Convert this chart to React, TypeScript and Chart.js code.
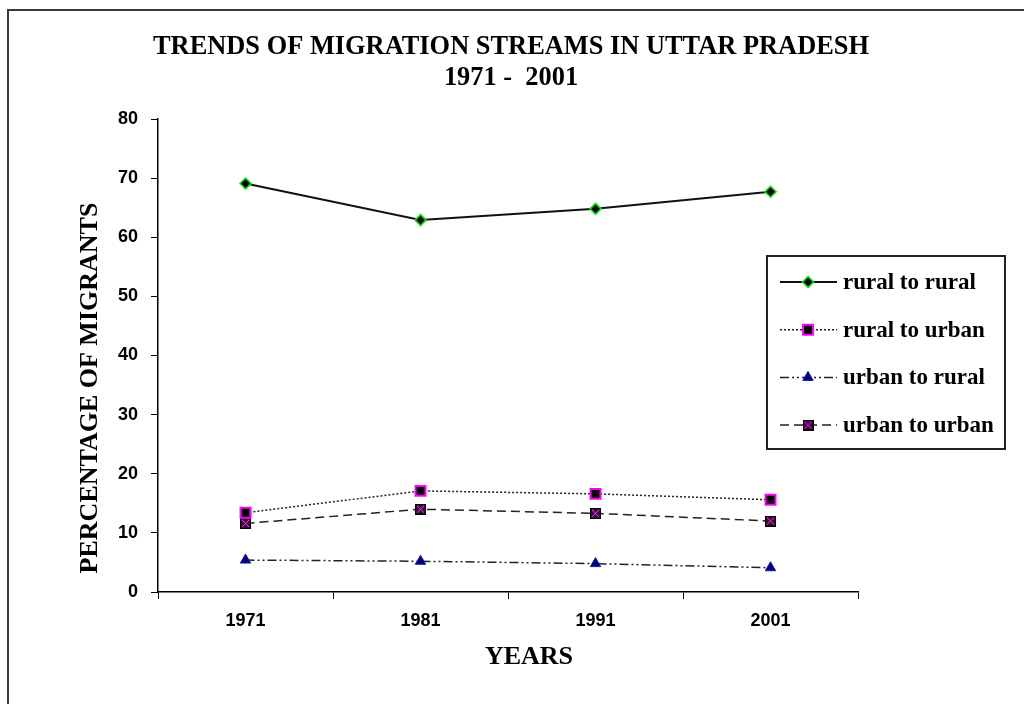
import React, { useEffect, useRef } from 'react';
import { Chart, registerables } from 'chart.js';
import { drawPoint } from 'chart.js/helpers';

Chart.register(...registerables);

// ---- data ----
const years = ['1971', '1981', '1991', '2001'];
const ruralToRural = [69.1, 62.9, 64.8, 67.7];
const ruralToUrban = [13.4, 17.1, 16.6, 15.6];
const urbanToRural = [5.4, 5.2, 4.8, 4.1];
const urbanToUrban = [11.6, 14.0, 13.3, 12.0];
const seriesNames = ['rural to rural', 'rural to urban', 'urban to rural', 'urban to urban'];
const titleLines = ['TRENDS OF MIGRATION STREAMS IN UTTAR PRADESH', '1971 -  2001'];
const xTitle = 'YEARS';
const yTitle = 'PERCENTAGE OF MIGRANTS';
const yMin = 0;
const yMax = 80;
const yStep = 10;

const SERIF = '"Liberation Serif", "Times New Roman", serif';
const SANS = '"Liberation Sans", Arial, sans-serif';

function makeXSquare(): HTMLCanvasElement {
  const c = document.createElement('canvas');
  c.width = 11;
  c.height = 11;
  const g = c.getContext('2d')!;
  g.fillStyle = '#3a0a3a';
  g.fillRect(0, 0, 11, 11);
  g.strokeStyle = '#000';
  g.lineWidth = 1;
  g.strokeRect(0.5, 0.5, 10, 10);
  g.strokeStyle = '#ff33ff';
  g.lineWidth = 1;
  g.beginPath();
  g.moveTo(2, 2);
  g.lineTo(9, 9);
  g.moveTo(9, 2);
  g.lineTo(2, 9);
  g.stroke();
  return c;
}

const decorPlugin = {
  id: 'decor',
  beforeDraw(chart: any) {
    const ctx = chart.ctx;
    ctx.save();
    ctx.fillStyle = '#fff';
    ctx.fillRect(0, 0, chart.width, chart.height);
    ctx.strokeStyle = '#3a3a3a';
    ctx.lineWidth = 2;
    ctx.strokeRect(8, 10, 1040, 720);
    ctx.restore();
  },
  afterDraw(chart: any) {
    const ctx = chart.ctx;
    const area = chart.chartArea;
    ctx.save();
    ctx.fillStyle = '#000';
    ctx.textAlign = 'center';
    ctx.textBaseline = 'middle';

    // chart title
    ctx.font = `bold 26.4px ${SERIF}`;
    titleLines.forEach((line, i) => {
      ctx.fillText(line, area.left + 353, area.top - 72 + i * 31);
    });

    // axis titles
    ctx.font = `bold 26px ${SERIF}`;
    ctx.fillText(xTitle, area.left + 371, area.bottom + 65);
    ctx.save();
    ctx.translate(area.left - 67.5, area.bottom - 204);
    ctx.rotate(-Math.PI / 2);
    ctx.fillText(yTitle, 0, 0);
    ctx.restore();

    // legend
    const lx = area.right - 91;
    const ly = 256;
    ctx.strokeStyle = '#222';
    ctx.lineWidth = 2;
    ctx.strokeRect(lx, ly, 238, 193);
    chart.data.datasets.forEach((ds: any, i: number) => {
      const y = ly + 26 + i * 47.7;
      ctx.save();
      ctx.strokeStyle = ds.borderColor;
      ctx.lineWidth = ds.borderWidth;
      ctx.setLineDash(ds.borderDash || []);
      ctx.beginPath();
      ctx.moveTo(lx + 13, y);
      ctx.lineTo(lx + 70, y);
      ctx.stroke();
      ctx.setLineDash([]);
      ctx.fillStyle = ds.pointBackgroundColor;
      ctx.strokeStyle = ds.pointBorderColor;
      ctx.lineWidth = ds.pointBorderWidth;
      drawPoint(ctx, { pointStyle: ds.pointStyle, rotation: 0, radius: ds.pointRadius, borderWidth: ds.pointBorderWidth }, lx + 41, y);
      ctx.restore();
      ctx.fillStyle = '#000';
      ctx.font = `bold 23px ${SERIF}`;
      ctx.textAlign = 'left';
      ctx.textBaseline = 'middle';
      ctx.fillText(ds.label, lx + 76, y + 1);
    });
    ctx.restore();
  },
};

export default function App() {
  const ref = useRef<HTMLCanvasElement>(null);

  useEffect(() => {
    if (!ref.current) return;
    const xSquare = makeXSquare();
    const chart = new Chart(ref.current, {
      type: 'line',
      data: {
        labels: years,
        datasets: [
          {
            label: seriesNames[0],
            data: ruralToRural,
            borderColor: '#111',
            borderWidth: 2,
            borderDash: [],
            pointStyle: 'rectRot',
            pointRadius: 5.5,
            pointBackgroundColor: '#000',
            pointBorderColor: '#00ee00',
            pointBorderWidth: 1.5,
          },
          {
            label: seriesNames[1],
            data: ruralToUrban,
            borderColor: '#222',
            borderWidth: 1.5,
            borderDash: [2, 2],
            pointStyle: 'rect',
            pointRadius: 7,
            pointBackgroundColor: '#000',
            pointBorderColor: '#ff00ff',
            pointBorderWidth: 2,
          },
          {
            label: seriesNames[2],
            data: urbanToRural,
            borderColor: '#222',
            borderWidth: 1.5,
            borderDash: [9, 3, 2, 3, 2, 3],
            pointStyle: 'triangle',
            pointRadius: 6,
            pointBackgroundColor: '#000080',
            pointBorderColor: '#1a1aa0',
            pointBorderWidth: 1,
          },
          {
            label: seriesNames[3],
            data: urbanToUrban,
            borderColor: '#222',
            borderWidth: 1.5,
            borderDash: [9, 5],
            pointStyle: xSquare as any,
            pointRadius: 6,
            pointBackgroundColor: '#3a0a3a',
            pointBorderColor: '#000',
            pointBorderWidth: 1,
          },
        ],
      },
      options: {
        responsive: false,
        animation: false,
        devicePixelRatio: 1,
        layout: { padding: { top: 119, left: 60, right: 166, bottom: 40 } },
        plugins: {
          legend: { display: false },
          tooltip: { enabled: false },
          title: { display: false },
        },
        scales: {
          x: {
            type: 'category',
            offset: true,
            grid: {
              offset: true,
              drawOnChartArea: false,
              drawTicks: true,
              tickLength: 7,
              color: '#000',
            },
            border: { display: true, color: '#000', width: 1.5 },
            ticks: {
              color: '#000',
              padding: 11,
              font: { family: SANS, size: 18, weight: 'bold' },
              maxRotation: 0,
            },
            afterFit(scale: any) {
              scale.height = 72;
            },
          },
          y: {
            min: yMin,
            max: yMax,
            grid: {
              drawOnChartArea: false,
              drawTicks: true,
              tickLength: 7,
              color: '#000',
            },
            border: { display: true, color: '#000', width: 1.5 },
            ticks: {
              stepSize: yStep,
              color: '#000',
              padding: 13,
              font: { family: SANS, size: 18, weight: 'bold' },
            },
            afterFit(scale: any) {
              scale.width = 98;
            },
          },
        },
      },
      plugins: [decorPlugin],
    });
    return () => chart.destroy();
  }, []);

  return (
    <div style={{ position: 'absolute', left: 0, top: 0, width: 1024, height: 704 }}>
      <canvas ref={ref} width={1024} height={704} />
    </div>
  );
}
